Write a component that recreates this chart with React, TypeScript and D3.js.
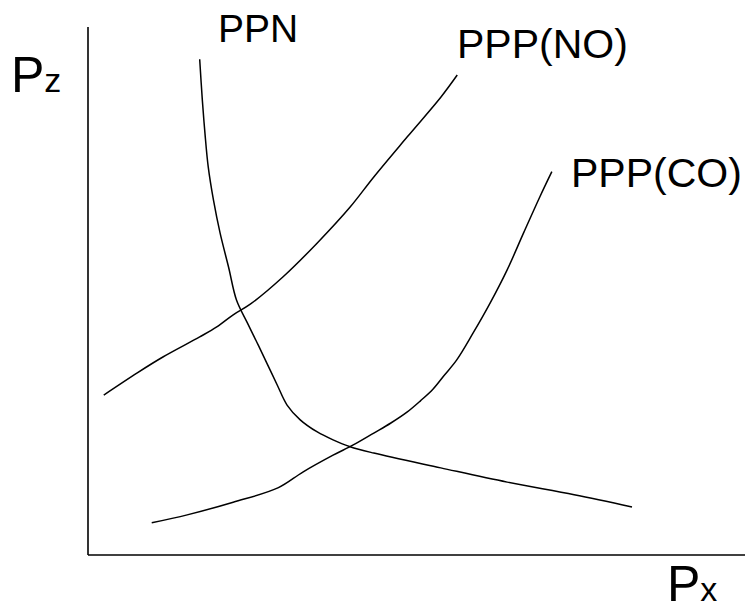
import React from "react";
import * as d3 from "d3";

const ppnX = [1.7, 1.74, 1.78, 1.83, 1.91, 2.01, 2.14, 2.26, 2.42, 2.57, 2.72, 2.88, 3.03, 3.23, 3.49, 3.73, 3.99, 4.35, 5.37, 6.38, 7.4, 8.28];
const ppnY = [9.39, 8.62, 7.99, 7.35, 6.72, 6.1, 5.45, 4.83, 4.41, 4.03, 3.64, 3.22, 2.84, 2.56, 2.33, 2.18, 2.05, 1.93, 1.65, 1.38, 1.14, 0.91];

const noX = [0.24, 0.75, 1.14, 1.7, 1.96, 2.21, 2.47, 2.97, 3.49, 3.99, 4.35, 4.86, 5.37, 5.62];
const noY = [3.03, 3.45, 3.75, 4.13, 4.32, 4.55, 4.75, 5.27, 5.91, 6.59, 7.16, 7.92, 8.67, 9.09];

const coX = [0.97, 1.51, 2.21, 2.89, 3.27, 3.73, 4.03, 4.35, 4.61, 4.86, 5.06, 5.25, 5.42, 5.61, 5.86, 6.12, 6.38, 6.63, 6.88, 7.06];
const coY = [0.61, 0.76, 1.0, 1.27, 1.57, 1.89, 2.08, 2.31, 2.5, 2.71, 2.92, 3.14, 3.4, 3.69, 4.2, 4.77, 5.4, 6.1, 6.79, 7.26];

const seriesNames = ["PPN", "PPP(NO)", "PPP(CO)"];
const yAxisLabel = ["P", "z"];
const xAxisLabel = ["P", "x"];

const W = 748;
const H = 610;
const X0 = 88, X1 = 745, Y0 = 555, Y1 = 27;

export default function App() {
  const x = d3.scaleLinear().domain([0, 10]).range([X0, X0 + 657]);
  const y = d3.scaleLinear().domain([0, 10]).range([Y0, Y0 - 528]);
  const line = d3
    .line<[number, number]>()
    .x((d) => x(d[0]))
    .y((d) => y(d[1]))
    .curve(d3.curveCatmullRom.alpha(0.5));
  const zip = (a: number[], b: number[]) => a.map((v, i) => [v, b[i]] as [number, number]);
  const series = [zip(ppnX, ppnY), zip(noX, noY), zip(coX, coY)];
  const font = "'Liberation Sans', Arial, sans-serif";
  return (
    <svg
      width={W}
      height={H}
      style={{ position: "absolute", left: 0, top: 0, background: "#fff" }}
      fontFamily={font}
    >
      <line x1={X0} y1={Y1} x2={X0} y2={Y0} stroke="#000" strokeWidth={1.6} />
      <line x1={X0} y1={Y0} x2={X1} y2={Y0} stroke="#000" strokeWidth={1.6} />
      {series.map((s, i) => (
        <path key={i} d={line(s) || ""} fill="none" stroke="#000" strokeWidth={1.5} />
      ))}
      <text x={218} y={42} fontSize={39} fill="#000">{seriesNames[0]}</text>
      <text x={457} y={58} fontSize={41} fill="#000">{seriesNames[1]}</text>
      <text x={571} y={187} fontSize={41} fill="#000">{seriesNames[2]}</text>
      <text x={11} y={92} fill="#000">
        <tspan fontSize={50}>{yAxisLabel[0]}</tspan>
        <tspan fontSize={34}>{yAxisLabel[1]}</tspan>
      </text>
      <text x={667} y={601} fill="#000">
        <tspan fontSize={50}>{xAxisLabel[0]}</tspan>
        <tspan fontSize={34}>{xAxisLabel[1]}</tspan>
      </text>
    </svg>
  );
}
